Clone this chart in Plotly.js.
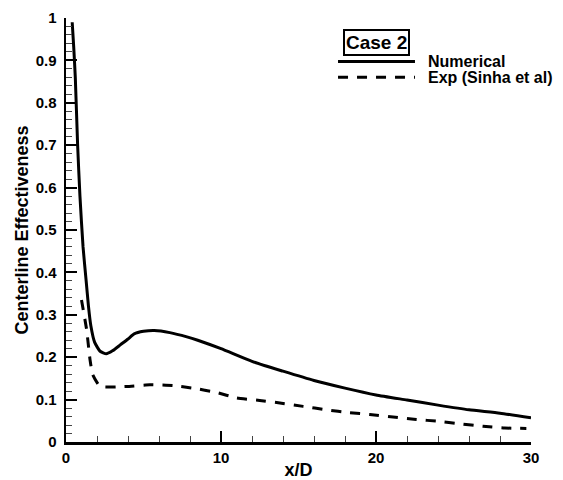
<!DOCTYPE html>
<html>
<head>
<meta charset="utf-8">
<script src="https://cdn.plot.ly/plotly-3.0.1.min.js"></script>
<style>html,body{margin:0;padding:0;background:#fff;}#chart{width:563px;height:480px;}</style>
</head>
<body>
<div id="chart"></div>
<script>
// Numerical (solid)
const numX = [0.4, 0.5, 0.6, 0.75, 0.9, 1.1, 1.3, 1.45, 1.6, 1.85, 2.2, 2.6, 3.0, 3.5, 4.0, 4.4, 5.0, 5.7, 6.7, 7.8, 8.5, 10, 12, 14, 16, 18, 20, 22, 24, 26, 28, 30];
const numY = [0.99, 0.93, 0.86, 0.70, 0.58, 0.46, 0.38, 0.32, 0.275, 0.235, 0.214, 0.208, 0.215, 0.229, 0.243, 0.255, 0.261, 0.263, 0.258, 0.248, 0.240, 0.220, 0.190, 0.167, 0.145, 0.127, 0.111, 0.099, 0.087, 0.076, 0.068, 0.057];
// Experimental, Sinha et al (dashed)
const expX = [1.0, 1.33, 1.55, 1.72, 2.2, 3.9, 5.4, 6.9, 8.2, 9.7, 11, 12.5, 13.8, 15.3, 16.8, 18.3, 19.6, 21.1, 22.6, 24, 25.4, 26.9, 28.3, 29.7];
const expY = [0.335, 0.265, 0.194, 0.159, 0.131, 0.131, 0.135, 0.133, 0.127, 0.117, 0.104, 0.098, 0.092, 0.084, 0.076, 0.069, 0.065, 0.059, 0.053, 0.049, 0.043, 0.037, 0.033, 0.032];

const seriesNames = ['Numerical', 'Exp (Sinha et al)'];
const caseLabel = 'Case 2';
const xTicks = [0, 10, 20, 30];
const yTicks = [0, 0.1, 0.2, 0.3, 0.4, 0.5, 0.6, 0.7, 0.8, 0.9, 1];
const yTickText = ['0', '0.1', '0.2', '0.3', '0.4', '0.5', '0.6', '0.7', '0.8', '0.9', '1'];

const FONT = 'Liberation Sans, Arial, sans-serif';
const DASH = '10px,9px';

const traces = [
  {x: numX, y: numY, name: seriesNames[0], mode: 'lines',
   line: {color: '#000', width: 3, shape: 'spline', smoothing: 0.5}},
  {x: expX, y: expY, name: seriesNames[1], mode: 'lines',
   line: {color: '#000', width: 3, dash: DASH, shape: 'spline', smoothing: 0.4}}
];

const axisCommon = {
  showgrid: false, zeroline: false, showline: true, linecolor: '#000', linewidth: 2.5,
  ticks: 'inside', tickcolor: '#000', tickwidth: 2, ticklen: 11,
  tickfont: {family: FONT, size: 15, color: '#000', weight: 'bold'},
  mirror: false, fixedrange: true
};

const layout = {
  width: 563, height: 480,
  margin: {l: 66, r: 32, t: 17.5, b: 37.5, pad: 0},
  paper_bgcolor: '#fff', plot_bgcolor: '#fff',
  showlegend: false,
  font: {family: FONT, color: '#000'},
  xaxis: Object.assign({}, axisCommon, {
    range: [0, 30], tickmode: 'array', tickvals: xTicks, ticktext: xTicks.map(String),
    minor: {dtick: 2, ticks: 'inside', ticklen: 6, tickwidth: 1, tickcolor: '#444'},
    ticklabelstandoff: 0,
    title: {text: 'x/D', font: {family: FONT, size: 18, color: '#000', weight: 'bold'}, standoff: 2}
  }),
  yaxis: Object.assign({}, axisCommon, {
    range: [0, 1], tickmode: 'array', tickvals: yTicks, ticktext: yTickText,
    minor: {dtick: 0.02, ticks: 'inside', ticklen: 6, tickwidth: 1, tickcolor: '#444'},
    ticklabelstandoff: 4,
    title: {text: 'Centerline Effectiveness', font: {family: FONT, size: 18, color: '#000', weight: 'bold'}, standoff: 3}
  }),
  shapes: [
    {type: 'line', xref: 'paper', yref: 'paper', x0: 0.585, x1: 0.7505, y0: 0.8976, y1: 0.8976,
     line: {color: '#000', width: 3}},
    {type: 'line', xref: 'paper', yref: 'paper', x0: 0.585, x1: 0.7505, y0: 0.86, y1: 0.86,
     line: {color: '#000', width: 3, dash: DASH}}
  ],
  annotations: [
    {xref: 'paper', yref: 'paper', x: 0.668, y: 0.942, xanchor: 'center', yanchor: 'middle',
     text: caseLabel, showarrow: false, bordercolor: '#000', borderwidth: 2, borderpad: 1,
     font: {family: FONT, size: 19, color: '#000', weight: 'bold'}},
    {xref: 'paper', yref: 'paper', x: 0.774, y: 0.8976, xanchor: 'left', yanchor: 'middle',
     text: seriesNames[0], showarrow: false,
     font: {family: FONT, size: 16, color: '#000', weight: 'bold'}},
    {xref: 'paper', yref: 'paper', x: 0.774, y: 0.86, xanchor: 'left', yanchor: 'middle',
     text: seriesNames[1], showarrow: false,
     font: {family: FONT, size: 16, color: '#000', weight: 'bold'}}
  ]
};

Plotly.newPlot('chart', traces, layout, {staticPlot: true, displayModeBar: false});
</script>
</body>
</html>
